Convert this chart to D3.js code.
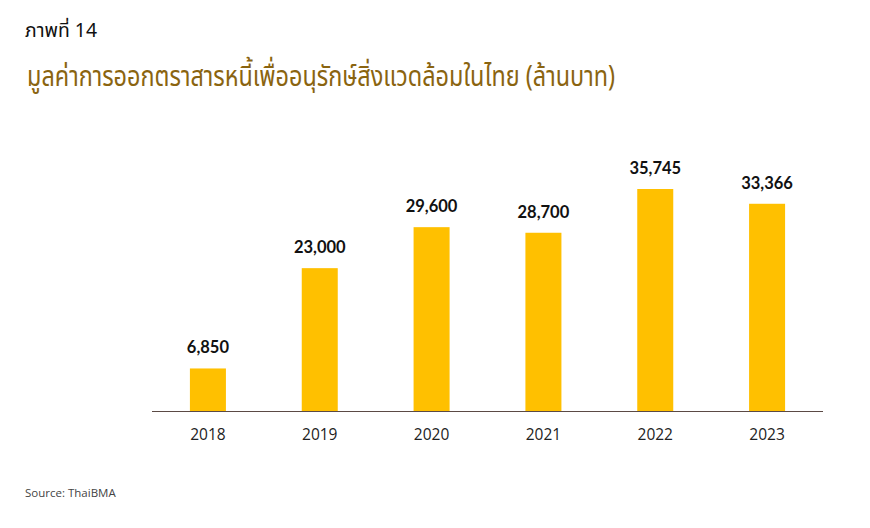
<!DOCTYPE html>
<html><head><meta charset="utf-8">
<script src="https://cdn.jsdelivr.net/npm/d3@7"></script>
<style>body{margin:0;background:#fff;}svg{display:block;}</style>
</head><body>
<svg id="c" width="870" height="528"></svg>
<script>
const years = ["2018","2019","2020","2021","2022","2023"];
const values = [6850, 23000, 29600, 28700, 35745, 33366];
const figLabel = "ภาพที่ 14";
const titleText = "มูลค่าการออกตราสารหนี้เพื่ออนุรักษ์สิ่งแวดล้อมในไทย (ล้านบาท)";
const sourceText = "Source: ThaiBMA";

const svg = d3.select("#c");
const x0 = 152, x1 = 823, yBase = 411;
const x = d3.scaleBand().domain(years).range([x0, x1]).paddingInner(0.678).paddingOuter(0.339);
const y = d3.scaleLinear().domain([0, 35745]).range([yBase, 189]);

svg.append("text").attr("x", 25).attr("y", 37).text(figLabel)
  .attr("font-family", "'Noto Sans Thai','Noto Sans','DejaVu Sans',sans-serif").attr("font-size", 19)
  .attr("textLength", 72).attr("lengthAdjust", "spacingAndGlyphs")
  .attr("font-weight", 400).attr("fill", "#111");
svg.append("text").attr("x", 27).attr("y", 86).text(titleText)
  .attr("font-family", "'Noto Sans Thai','Noto Sans','DejaVu Sans',sans-serif").attr("font-size", 29)
  .attr("textLength", 588).attr("lengthAdjust", "spacingAndGlyphs")
  .attr("fill", "#8a6410");

svg.selectAll("rect.bar").data(values).join("rect").attr("class", "bar")
  .attr("x", (d, i) => x(years[i])).attr("width", x.bandwidth())
  .attr("y", d => y(d)).attr("height", d => yBase - y(d)).attr("fill", "#ffc000");

svg.append("line").attr("x1", x0).attr("x2", x1).attr("y1", yBase + 0.5).attr("y2", yBase + 0.5)
  .attr("stroke", "#5b4a45").attr("stroke-width", 1.2);

const fmt = d3.format(",");
svg.selectAll("text.val").data(values).join("text").attr("class", "val")
  .attr("x", (d, i) => x(years[i]) + x.bandwidth() / 2).attr("y", d => y(d) - 15)
  .attr("text-anchor", "middle").attr("font-family", "Lato,sans-serif").attr("font-weight", "bold")
  .attr("font-size", 16.5).attr("fill", "#111").text(d => fmt(d));

svg.selectAll("text.yr").data(years).join("text").attr("class", "yr")
  .attr("x", d => x(d) + x.bandwidth() / 2).attr("y", 440)
  .attr("text-anchor", "middle").attr("font-family", "'Open Sans',sans-serif")
  .attr("font-size", 15.5).attr("fill", "#222").text(d => d);

svg.append("text").attr("x", 25).attr("y", 497).text(sourceText)
  .attr("font-family", "'Open Sans',sans-serif").attr("font-size", 11.5).attr("fill", "#444");
</script>
</body></html>
